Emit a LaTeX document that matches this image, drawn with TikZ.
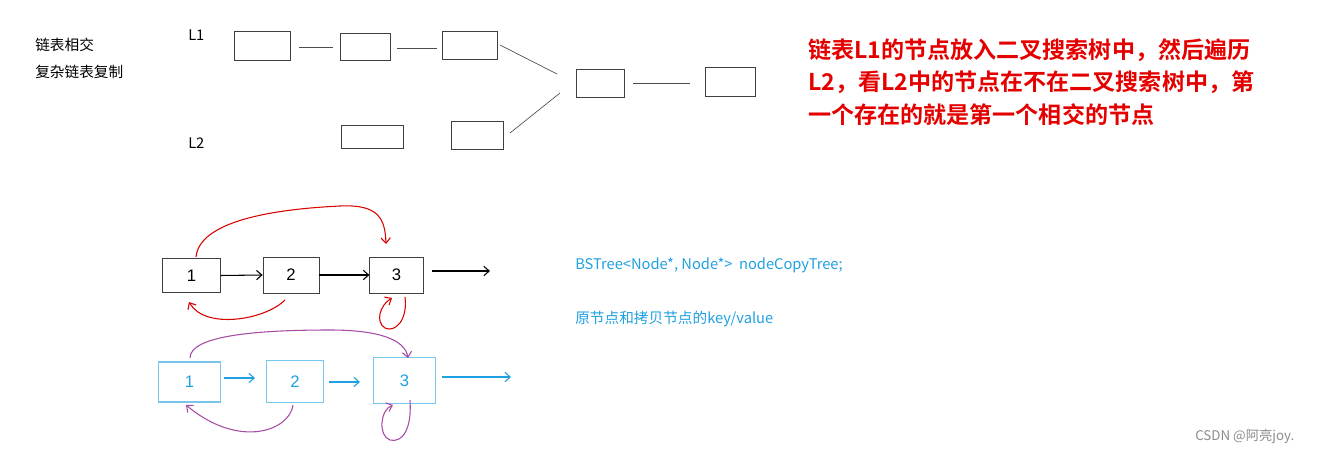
\documentclass[tikz,border=0pt]{standalone}
\usepackage{fontspec}
\usetikzlibrary{arrows.meta}
\setmainfont{Liberation Sans}
\newfontfamily\cjk{Noto Sans CJK SC}
\newfontfamily\cjkb{Noto Sans CJK SC Bold}
\definecolor{lblue}{HTML}{1FA0E0}
\begin{document}
\begin{tikzpicture}[x=0.75pt,y=-0.75pt,
  bx/.style={draw=black!75,line width=0.6pt},
  bb/.style={draw=lblue!60,line width=0.8pt},
  ln/.style={draw=black!70,line width=0.5pt},
  ar/.style={-{Straight Barb[length=4pt,width=7pt]},line width=0.8pt},
  rc/.style={ar,red!85!black},
  pc/.style={ar,violet!70},
  lab/.style={inner sep=0,anchor=west,font=\cjk\fontsize{11}{13}\selectfont}]
\useasboundingbox (0,0) rectangle (1325,453);
% top diagram
\draw[bx] (234,31) rectangle (290,60) coordinate (a);
\draw[bx] (340,33) rectangle (390,60);
\draw[bx] (442,31) rectangle (497,59);
\draw[bx] (576,69) rectangle (624,97);
\draw[bx] (705,67) rectangle (755,96);
\draw[bx] (341,125) rectangle (403,148);
\draw[bx] (451,121) rectangle (503,149);
\draw[ln] (299,47)--(333,47);
\draw[ln] (397,48)--(437,48);
\draw[ln] (500,45)--(557,74);
\draw[ln] (510,133)--(560,93);
\draw[ln] (633,83)--(690,83);
\node[lab] (t1) at (35,45) {链表相交};
\node[lab] (t2) at (35,72) {复杂链表复制};
\node[lab] (l1) at (188,35) {L1};
\node[lab] (l2) at (188,143) {L2};
\node[inner sep=0,anchor=north west,align=left,text=red!90!black,font=\cjkb\fontsize{17.3}{24.5}\selectfont] (rt) at (808,38)
 {链表L1的节点放入二叉搜索树中，然后遍历\\L2，看L2中的节点在不在二叉搜索树中，第\\一个存在的就是第一个相交的节点};
% bottom black list
\node[bx,minimum width=43pt,minimum height=26pt,font=\fontsize{12.5}{14}\selectfont] (n1) at (191.5,275.5) {1};
\node[bx,minimum width=42pt,minimum height=27pt,font=\fontsize{12.5}{14}\selectfont] (n2) at (291,275) {2};
\node[bx,minimum width=40pt,minimum height=27pt,font=\fontsize{12.5}{14}\selectfont] (n3) at (396.5,275) {3};
\coordinate (e1) at (490,271);
\draw[ar] (n1.east)--(n2.west);
\draw[ar] (n2.east)--(n3.west);
\draw[ar] (432,271)--(e1);
\draw[rc] (196,257) .. controls (200,215) and (300,208) .. (340,206) .. controls (380,204) and (385,220) .. (386,244);
\draw[rc] (285,300) .. controls (265,320) and (205,330) .. (189,302);
\draw[rc] (405,297) .. controls (408,320) and (395,333) .. (385,328) .. controls (375,322) and (380,305) .. (392,298);
% bottom blue list
\node[bb,minimum width=47pt,minimum height=30pt,text=lblue,font=\fontsize{12.5}{14}\selectfont] (m1) at (189.5,382) {1};
\node[bb,minimum width=43pt,minimum height=32pt,text=lblue,font=\fontsize{12.5}{14}\selectfont] (m2) at (295,381.5) {2};
\node[bb,minimum width=47pt,minimum height=34pt,text=lblue,font=\fontsize{12.5}{14}\selectfont] (m3) at (404.5,380.5) {3};
\coordinate (e2) at (511,377);
\draw[ar,lblue] (224,378)--(255,378);
\draw[ar,lblue] (329,382)--(360,382);
\draw[ar,lblue] (442,377)--(e2);
\draw[pc] (190,358) .. controls (190,335) and (260,330) .. (330,330) .. controls (380,330) and (405,340) .. (408,358);
\draw[pc] (293,405) .. controls (290,430) and (240,450) .. (186,405);
\draw[pc] (410,400) .. controls (412,430) and (402,443) .. (390,440) .. controls (378,436) and (380,410) .. (393,405);
% right blue text
\node[lab,text=lblue,font=\cjk\fontsize{11}{13}\selectfont] (bt1) at (575,265) {BSTree<Node*, Node*>\ \ nodeCopyTree;};
\node[lab,text=lblue,font=\cjk\fontsize{11}{13}\selectfont] (bt2) at (575,319) {原节点和拷贝节点的key/value};
\node[lab,text=black!45,font=\cjk\fontsize{10}{12}\selectfont] (wm) at (1195,436) {CSDN @阿亮joy.};
\end{tikzpicture}
\end{document}
